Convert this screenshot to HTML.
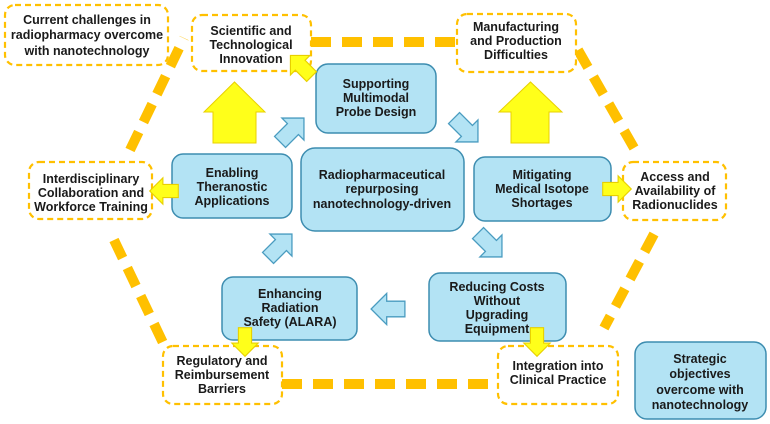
<!DOCTYPE html>
<html><head><meta charset="utf-8"><style>
html,body{margin:0;padding:0;background:#fff;}
svg{display:block;}
text{font-family:"Liberation Sans",sans-serif;font-weight:bold;font-size:12.5px;fill:#1a1a1a;text-anchor:middle;}
</style></head><body>
<svg width="770" height="424" viewBox="0 0 770 424" xmlns="http://www.w3.org/2000/svg">
<defs>
<path id="ba" d="M-13,-6 L1,-6 L1,-12 L13,0 L1,12 L1,6 L-13,6 Z"/>
</defs>
<g stroke="#ffc000" stroke-width="10" stroke-dasharray="20,11" fill="none">
<line x1="311" y1="42" x2="457" y2="42"/>
<line x1="578" y1="50" x2="634" y2="148"/>
<line x1="654" y1="234" x2="604" y2="328"/>
<line x1="282" y1="384" x2="498" y2="384"/>
<line x1="114" y1="240" x2="165" y2="347"/>
<line x1="130" y1="150" x2="184" y2="38"/>
</g>
<g fill="#fff" stroke="#ffc000" stroke-width="2.2" stroke-dasharray="6,4">
<rect x="5" y="5" width="163" height="60" rx="10"/>
<rect x="192" y="15" width="119" height="56" rx="10"/>
<rect x="457" y="14" width="119" height="58" rx="10"/>
<rect x="623" y="162" width="103" height="58" rx="10"/>
<rect x="29" y="162" width="123" height="57" rx="10"/>
<rect x="163" y="346" width="119" height="58" rx="10"/>
<rect x="498" y="346" width="120" height="58" rx="10"/>
</g>
<g fill="#b3e3f4" stroke="#3d8db0" stroke-width="1.5">
<rect x="316" y="64" width="120" height="69" rx="12"/>
<rect x="301" y="148" width="163" height="83" rx="14"/>
<rect x="172" y="154" width="120" height="64" rx="11"/>
<rect x="474" y="157" width="137" height="64" rx="11"/>
<rect x="429" y="273" width="137" height="68" rx="11"/>
<rect x="222" y="277" width="135" height="63" rx="11"/>
<rect x="635" y="342" width="131" height="77" rx="12"/>
</g>
<g fill="#ffff1a" stroke="#e8d000" stroke-width="1">
<path d="M213,143 L213,112 L204,112 L234.5,82 L265,112 L256,112 L256,143 Z"/>
<path d="M511,143 L511,112 L499,112 L530.5,82 L562,112 L549,112 L549,143 Z"/>
<use href="#ba" transform="translate(301,66) rotate(-135) scale(1.15)"/>
<use href="#ba" transform="translate(164,191) rotate(180) scale(1.1)"/>
<use href="#ba" transform="translate(617,189) scale(1.1)"/>
<use href="#ba" transform="translate(245,342) rotate(90) scale(1.1)"/>
<use href="#ba" transform="translate(537,342) rotate(90) scale(1.1)"/>
</g>
<g fill="#b3e3f4" stroke="#4a9cc0" stroke-width="1">
<use href="#ba" transform="translate(292,130) rotate(-45) scale(1.3)"/>
<use href="#ba" transform="translate(466,130) rotate(45) scale(1.3)"/>
<use href="#ba" transform="translate(490,245) rotate(45) scale(1.3)"/>
<use href="#ba" transform="translate(388,309) rotate(180) scale(1.3)"/>
<use href="#ba" transform="translate(280,246) rotate(-45) scale(1.3)"/>
</g>
<text x="87" y="24">Current challenges in</text>
<text x="87" y="39">radiopharmacy overcome</text>
<text x="87" y="55">with nanotechnology</text>
<text x="251" y="35">Scientific and</text>
<text x="251" y="49">Technological</text>
<text x="251" y="63">Innovation</text>
<text x="516" y="31">Manufacturing</text>
<text x="516" y="45">and Production</text>
<text x="516" y="59">Difficulties</text>
<text x="675" y="181">Access and</text>
<text x="675" y="195">Availability of</text>
<text x="675" y="209">Radionuclides</text>
<text x="91" y="183">Interdisciplinary</text>
<text x="91" y="197">Collaboration and</text>
<text x="91" y="211">Workforce Training</text>
<text x="222" y="365">Regulatory and</text>
<text x="222" y="379">Reimbursement</text>
<text x="222" y="393">Barriers</text>
<text x="558" y="370">Integration into</text>
<text x="558" y="384">Clinical Practice</text>
<text x="376" y="88">Supporting</text>
<text x="376" y="102">Multimodal</text>
<text x="376" y="116">Probe Design</text>
<text x="382" y="179">Radiopharmaceutical</text>
<text x="382" y="193">repurposing</text>
<text x="382" y="208">nanotechnology-driven</text>
<text x="232" y="177">Enabling</text>
<text x="232" y="191">Theranostic</text>
<text x="232" y="205">Applications</text>
<text x="542" y="179">Mitigating</text>
<text x="542" y="193">Medical Isotope</text>
<text x="542" y="207">Shortages</text>
<text x="497" y="291">Reducing Costs</text>
<text x="497" y="305">Without</text>
<text x="497" y="319">Upgrading</text>
<text x="497" y="333">Equipment</text>
<text x="290" y="298">Enhancing</text>
<text x="290" y="312">Radiation</text>
<text x="290" y="326">Safety (ALARA)</text>
<text x="700" y="363">Strategic</text>
<text x="700" y="378">objectives</text>
<text x="700" y="394">overcome with</text>
<text x="700" y="409">nanotechnology</text>
</svg>
</body></html>
